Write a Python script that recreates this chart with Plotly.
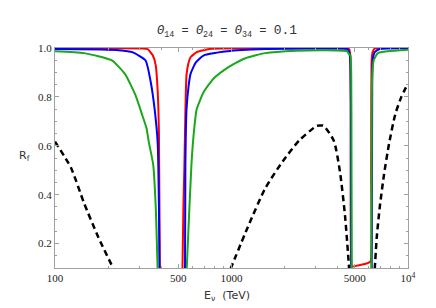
import plotly.graph_objects as go

# ---- data (E in TeV, R_f); None separates stretches that fall below the plotted range ----
red_E = [100, 240, 313, 335, 358, 372, 382, 388, 393, None,
         527, 534, 541, 548, 556, 571, 586, 635, 766, 1553, 3000, 4519, 4642, 4705, 4736, 4768,
         4832, 5168, 5525, 5907, 6143, 6184, 6225, 6308, 6478, 10000]
red_R = [0.999, 0.999, 0.998, 0.995, 0.97, 0.93, 0.82, 0.65, 0.08, None,
         0.08, 0.35, 0.52, 0.74, 0.89, 0.94, 0.962, 0.983, 0.997, 0.999, 0.999, 0.998, 0.995, 0.97, 0.78, 0.12,
         0.106, 0.11, 0.114, 0.12, 0.128, 0.5, 0.95, 0.983, 0.998, 0.999]

blue_E = [100, 183, 230, 274, 326, 348, 367, 382, 388, 391, None,
          545, 548, 556, 571, 586, 627, 697, 947, 1553, 2649, 4227, 4519, 4642, 4705, 4743, 4768, None,
          6225, 6266, 6308, 6478, 6920, 10000]
blue_R = [0.996, 0.994, 0.991, 0.983, 0.949, 0.864, 0.749, 0.609, 0.353, 0.08, None,
          0.08, 0.523, 0.749, 0.843, 0.894, 0.94, 0.97, 0.987, 0.996, 0.998, 0.998, 0.996, 0.983, 0.949, 0.78, 0.08, None,
          0.08, 0.78, 0.949, 0.983, 0.996, 0.999]

green_E = [100, 146, 210, 249, 285, 313, 330, 340, 360, 372, 382, None,
           556, 571, 593, 609, 635, 697, 797, 948, 1190, 1553, 2317, 3459, 4285, 4519, 4642, 4720, 4768, 4785, 4800, None,
           6200, 6225, 6266, 6391, 6747, 7711, 10000]
green_R = [0.987, 0.979, 0.949, 0.894, 0.809, 0.723, 0.672, 0.615, 0.523, 0.353, 0.08, None,
           0.08, 0.268, 0.523, 0.638, 0.749, 0.821, 0.877, 0.919, 0.957, 0.979, 0.989, 0.991, 0.989, 0.987, 0.974, 0.97, 0.894, 0.566, 0.08, None,
           0.08, 0.566, 0.885, 0.949, 0.979, 0.987, 0.993]

black_E = [100, 123, 146, 176, 215, None,
           986, 1238, 1553, 1950, 2413, 3028, 3152, 3323, 3798, 4116, 4401, 4642, None,
           6480, 6653, 6928, 7309, 7812, 8464, 9169, 10000]
black_R = [0.617, 0.511, 0.366, 0.226, 0.095, None,
           0.095, 0.268, 0.426, 0.536, 0.621, 0.681, 0.683, 0.682, 0.621, 0.494, 0.311, 0.095, None,
           0.095, 0.226, 0.353, 0.481, 0.609, 0.728, 0.8, 0.855]

x_tickvals = [100, 500, 1000, 5000, 10000]
x_ticktext = ["100", "500", "1000", "5000", "10<sup>4</sup>"]
x_minor = [200, 300, 400, 600, 700, 800, 900, 2000, 3000, 4000, 6000, 7000, 8000, 9000]
y_tickvals = [0.2, 0.4, 0.6, 0.8, 1.0]
y_ticktext = ["0.2", "0.4", "0.6", "0.8", "1.0"]

fig = go.Figure()
fig.add_trace(go.Scatter(x=black_E, y=black_R, mode="lines", connectgaps=False,
                         line=dict(color="black", width=2.5, dash="6px,4px", shape="spline", smoothing=0.6)))
for xs, ys, col in [(red_E, red_R, "#ff0000"), (blue_E, blue_R, "#0000ff"), (green_E, green_R, "#18a818")]:
    fig.add_trace(go.Scatter(x=xs, y=ys, mode="lines", connectgaps=False,
                             line=dict(color=col, width=2, shape="spline", smoothing=0.5)))

axis_common = dict(showgrid=False, zeroline=False, showline=True, linecolor="#a0a0a0", linewidth=1,
                   mirror="allticks", ticks="inside", tickcolor="#a0a0a0", ticklen=4,
                   tickfont=dict(family="Liberation Serif", size=11, color="#222"))

fig.update_layout(
    width=428, height=300,
    margin=dict(l=47, r=28, t=40, b=40),
    paper_bgcolor="white", plot_bgcolor="white",
    showlegend=False,
    xaxis=dict(type="log", range=[2, 4], tickmode="array", tickvals=x_tickvals, ticktext=x_ticktext,
               minor=dict(ticks="inside", ticklen=2, tickcolor="#a0a0a0", tickvals=x_minor),
               **axis_common),
    yaxis=dict(range=[0.1, 1.0], tickmode="array", tickvals=y_tickvals, ticktext=y_ticktext,
               minor=dict(ticks="inside", ticklen=2, tickcolor="#a0a0a0", dtick=0.05, tick0=0),
               **axis_common),
)

fig.add_annotation(xref="paper", yref="paper", x=0.487, y=1.0, yshift=17, xanchor="center", yanchor="middle",
                   showarrow=False,
                   text="<i>Θ</i><sub>14</sub> = <i>Θ</i><sub>24</sub> = <i>Θ</i><sub>34</sub> = <span style='font-size:13px'>0.1</span>",
                   font=dict(family="Liberation Mono", size=12, color="#333"))
fig.add_annotation(xref="paper", yref="paper", x=-0.087, y=0.51, xanchor="center", yanchor="middle",
                   showarrow=False,
                   text="R<sub>f</sub>", font=dict(family="DejaVu Sans", size=11, color="#333"))
fig.add_annotation(xref="paper", yref="paper", x=0.487, y=0, yshift=-28, xanchor="center", yanchor="middle",
                   showarrow=False,
                   text="E<sub>ν</sub>  (TeV)", font=dict(family="DejaVu Sans", size=11, color="#333"))

fig.write_html("out.html")
